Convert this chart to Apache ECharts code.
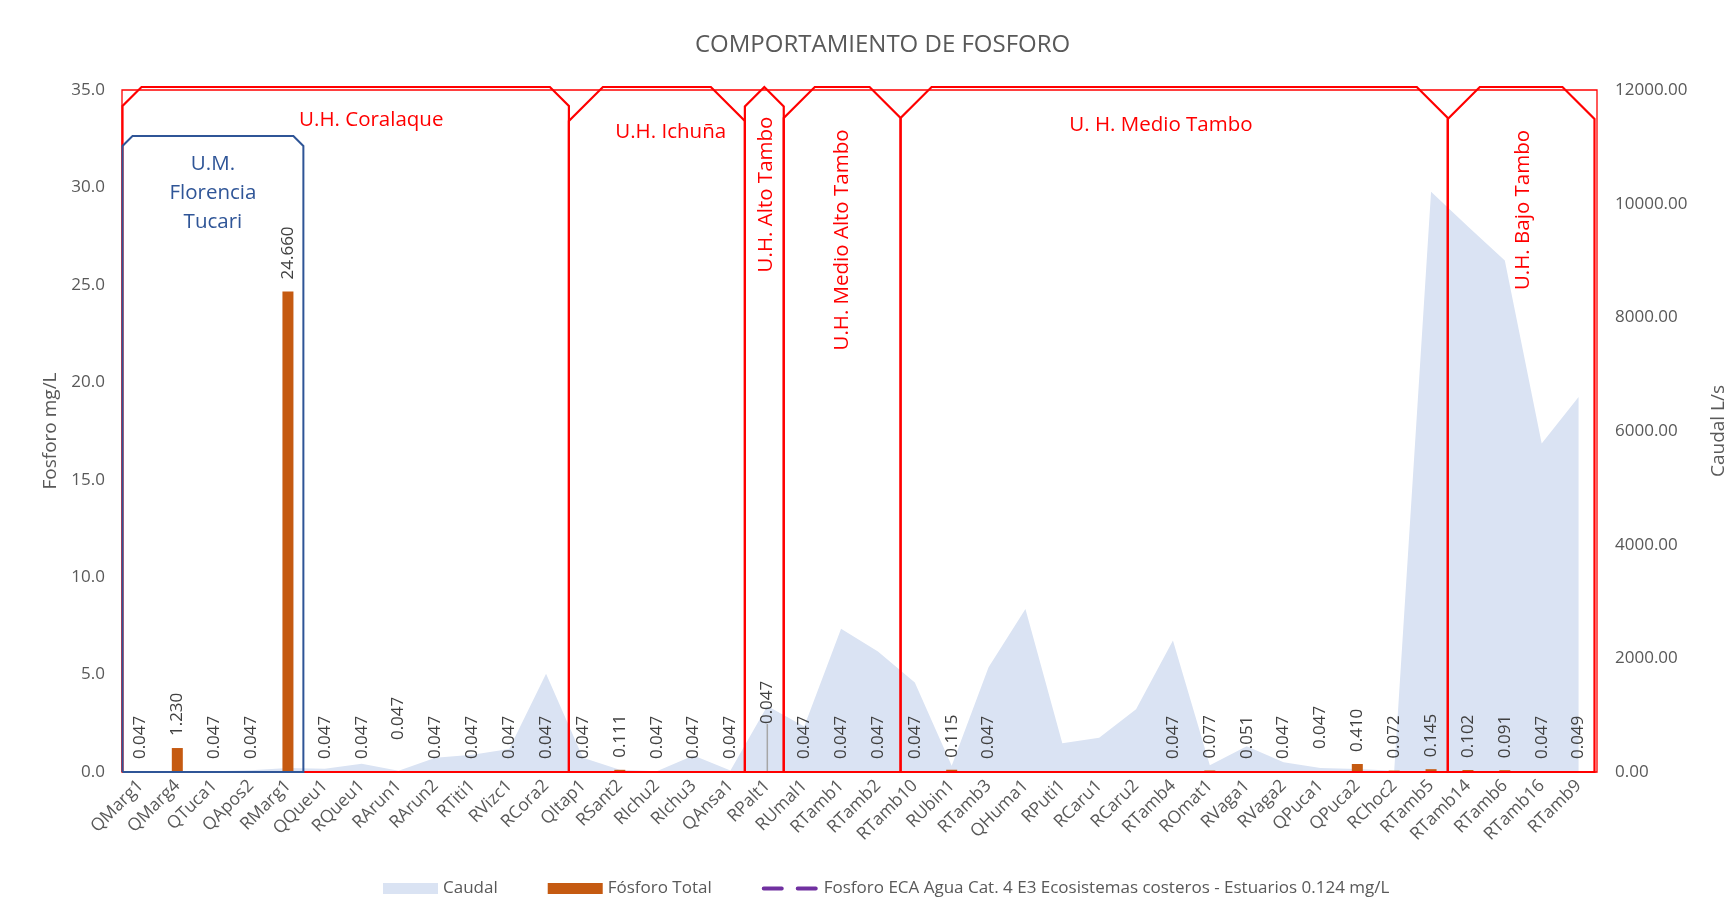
<!DOCTYPE html>
<html>
<head>
<meta charset="utf-8">
<script src="https://cdn.jsdelivr.net/npm/echarts@6/dist/echarts.min.js"></script>
<style>
html, body { margin: 0; padding: 0; background: #fff; }
#chart { width: 1736px; height: 912px; }
</style>
</head>
<body>
<div id="chart"></div>
<script>
// estaciones de monitoreo
var estaciones = ['QMarg1', 'QMarg4', 'QTuca1', 'QApos2', 'RMarg1', 'QQueu1', 'RQueu1', 'RArun1', 'RArun2', 'RTiti1',
	'RVizc1', 'RCora2', 'QItap1', 'RSant2', 'RIchu2', 'RIchu3', 'QAnsa1', 'RPalt1', 'RUmal1', 'RTamb1',
	'RTamb2', 'RTamb10', 'RUbin1', 'RTamb3', 'QHuma1', 'RPuti1', 'RCaru1', 'RCaru2', 'RTamb4', 'ROmat1',
	'RVaga1', 'RVaga2', 'QPuca1', 'QPuca2', 'RChoc2', 'RTamb5', 'RTamb14', 'RTamb6', 'RTamb16', 'RTamb9'];
// Fosforo total mg/L
var fosforoTotal = [0.047, 1.230, 0.047, 0.047, 24.660, 0.047, 0.047, 0.047, 0.047, 0.047,
	0.047, 0.047, 0.047, 0.111, 0.047, 0.047, 0.047, 0.047, 0.047, 0.047,
	0.047, 0.047, 0.115, 0.047, null, null, null, null, 0.047, 0.077,
	0.051, 0.047, 0.047, 0.410, 0.072, 0.145, 0.102, 0.091, 0.047, 0.049];
// caudal L/s
var caudal = [5, 10, 12, 30, 70, 55, 145, 20, 250, 305,
	405, 1730, 250, 40, 12, 290, 25, 1160, 800, 2520,
	2120, 1575, 110, 1845, 2870, 505, 603, 1105, 2315, 120,
	455, 170, 70, 53, 20, 10210, 9600, 9000, 5780, 6600];
var ecaFosforo = 0.124;
var ecaNombre = 'Fosforo ECA Agua Cat. 4 E3 Ecosistemas costeros - Estuarios 0.124 mg/L';
var ejeIzqTicks = [0, 35, 5];
var ejeDerTicks = [0, 12000, 2000];

// unidades hidrograficas (indice de estacion inicial y final)
var uhNombres = ['U.H. Coralaque', 'U.H. Ichuña', 'U.H. Alto Tambo', 'U.H. Medio Alto Tambo', 'U. H. Medio Tambo', 'U.H. Bajo Tambo'];
var uhInicio = [0, 12, 17, 18, 21, 36];
var uhFin = [11, 16, 17, 20, 35, 39];
var umNombre = 'U.M.\nFlorencia\nTucari';
var umInicio = 0, umFin = 4;

var fuente = '"Open Sans", "Liberation Sans", sans-serif';
var gris = '#595959';

var myChart = echarts.init(document.getElementById('chart'));

var barData = fosforoTotal.map(function(v, i) {
	if (i === 17) {
		return { value: v, labelLine: { show: true, lineStyle: { color: '#A6A6A6', width: 1.5 } } };
	}
	return v;
});

var option = {
	animation: false,
	textStyle: { fontFamily: fuente },
	title: {
		text: 'COMPORTAMIENTO DE FOSFORO',
		left: 690,
		top: 28,
		textStyle: { fontSize: 24, fontWeight: 'normal', color: gris, fontFamily: fuente }
	},
	grid: { left: 122, right: 135, top: 90, bottom: 140 },
	legend: {
		left: 378,
		top: 875,
		itemWidth: 55,
		itemHeight: 11,
		itemGap: 50,
		textStyle: { fontSize: 17, color: gris, fontFamily: fuente },
		data: [
			{ name: 'Caudal', icon: 'rect' },
			{ name: 'Fósforo Total', icon: 'rect' },
			{ name: ecaNombre, itemStyle: { opacity: 0 }, lineStyle: { opacity: 1, width: 4, type: [18, 16], cap: 'round', color: '#7030A0' } }
		]
	},
	xAxis: {
		type: 'category',
		data: estaciones,
		axisLine: { lineStyle: { color: '#D9D9D9', width: 1 } },
		axisTick: { length: 5, lineStyle: { color: '#D9D9D9' } },
		axisLabel: { rotate: 45, interval: 0, color: gris, fontSize: 17.5, margin: 11 }
	},
	yAxis: [{
		type: 'value',
		min: ejeIzqTicks[0], max: ejeIzqTicks[1], interval: ejeIzqTicks[2],
		name: 'Fosforo mg/L',
		nameLocation: 'middle',
		nameGap: 62,
		nameRotate: 90,
		nameTextStyle: { color: gris, fontSize: 19 },
		axisLabel: { formatter: function(v) { return v.toFixed(1); }, color: gris, fontSize: 17, margin: 17 },
		axisLine: { show: false },
		axisTick: { show: false },
		splitLine: { show: false }
	}, {
		type: 'value',
		position: 'right',
		min: ejeDerTicks[0], max: ejeDerTicks[1], interval: ejeDerTicks[2],
		name: 'Caudal L/s',
		nameLocation: 'middle',
		nameGap: 112,
		nameRotate: 90,
		nameTextStyle: { color: gris, fontSize: 19 },
		axisLabel: { formatter: function(v) { return v.toFixed(2); }, color: gris, fontSize: 17, margin: 18 },
		axisLine: { show: false },
		axisTick: { show: false },
		splitLine: { show: false }
	}],
	series: [{
		name: 'Caudal',
		type: 'line',
		yAxisIndex: 1,
		data: caudal,
		symbol: 'none',
		lineStyle: { width: 0 },
		itemStyle: { color: '#DAE3F3' },
		areaStyle: { color: '#DAE3F3', opacity: 1 },
		z: 1
	}, {
		name: 'Fósforo Total',
		type: 'bar',
		yAxisIndex: 0,
		data: barData,
		barWidth: 11,
		itemStyle: { color: '#C55A11' },
		label: {
			show: true,
			position: 'top',
			rotate: 90,
			align: 'left',
			verticalAlign: 'middle',
			distance: 12,
			color: '#404040',
			fontSize: 17,
			formatter: function(p) { return p.value == null ? '' : Number(p.value).toFixed(3); }
		},
		labelLayout: function(p) {
			// etiquetas desplazadas hacia arriba (eje local rotado)
			if (p.dataIndex === 7) return { dx: 19 };
			if (p.dataIndex === 17) return { dx: 35 };
			if (p.dataIndex === 32) return { dx: 10 };
			return {};
		},
		z: 3
	}, {
		// la linea ECA queda oculta bajo el eje en el grafico original
		name: ecaNombre,
		type: 'line',
		yAxisIndex: 0,
		data: estaciones.map(function() { return ecaFosforo; }),
		symbol: 'none',
		itemStyle: { color: '#7030A0' },
		lineStyle: { color: '#7030A0', width: 2, type: [8, 6], opacity: 0 },
		z: 0
	}]
};

myChart.setOption(option);

// recuadros de unidades hidrograficas
var c0 = myChart.convertToPixel({ xAxisIndex: 0 }, estaciones[0]);
var c1 = myChart.convertToPixel({ xAxisIndex: 0 }, estaciones[1]);
var paso = c1 - c0;
function borde(k) { return c0 - paso / 2 + k * paso; }
var yBase = myChart.convertToPixel({ yAxisIndex: 0 }, ejeIzqTicks[0]);
var yTope = myChart.convertToPixel({ yAxisIndex: 0 }, ejeIzqTicks[1]);

function recuadro(x0, x1, top, s, color, ancho) {
	var sl = Math.min(s, (x1 - x0) / 2);
	return {
		type: 'polyline',
		z: 100,
		shape: { points: [[x0, yBase], [x0, top + sl], [x0 + sl, top], [x1 - sl, top], [x1, top + sl], [x1, yBase], [x0, yBase]] },
		style: { fill: null, stroke: color, lineWidth: ancho, lineJoin: 'miter' },
		silent: true
	};
}

var recorte = [19, 34, 19.5, 31, 31, 32];
var ajusteBorde = [0.5, 4.4, -4, -2, 4.2, -1.7, -2.5];
var etqDx = [28, 14, -1.5, 1, -12, 0];
var etqDy = [30, 42, 104.5, 150, 35, 120];
var vertical = [false, false, true, true, false, true];

var graficos = [];
graficos.push({
	type: 'rect', z: 99, silent: true,
	shape: { x: borde(0), y: yTope, width: borde(estaciones.length) - borde(0), height: yBase - yTope },
	style: { fill: null, stroke: '#FF0000', lineWidth: 1.3 }
});
for (var i = 0; i < uhNombres.length; i++) {
	var xa = borde(uhInicio[i]) + ajusteBorde[i];
	var xb = borde(uhFin[i] + 1) + ajusteBorde[i + 1];
	graficos.push(recuadro(xa, xb, yTope - 3, recorte[i], '#FF0000', 2.2));
	graficos.push({
		type: 'text', z: 101, silent: true,
		x: (xa + xb) / 2 + etqDx[i] - (ajusteBorde[i] + ajusteBorde[i + 1]) / 2,
		y: yTope + etqDy[i],
		rotation: vertical[i] ? Math.PI / 2 : 0,
		style: { text: uhNombres[i], fill: '#FF0000', fontSize: 20.5, fontFamily: fuente, align: 'center', verticalAlign: 'middle' }
	});
}
var ua = borde(umInicio) + 0.5;
var ub = borde(umFin + 1) - 3;
graficos.push(recuadro(ua, ub, yTope + 46, 10, '#2F5597', 2));
graficos.push({
	type: 'text', z: 101, silent: true,
	x: (ua + ub) / 2, y: yTope + 103.5,
	style: { text: umNombre, fill: '#2F5597', fontSize: 20.5, lineHeight: 29, fontFamily: fuente, align: 'center', verticalAlign: 'middle' }
});

myChart.setOption({ graphic: graficos });
</script>
</body>
</html>
